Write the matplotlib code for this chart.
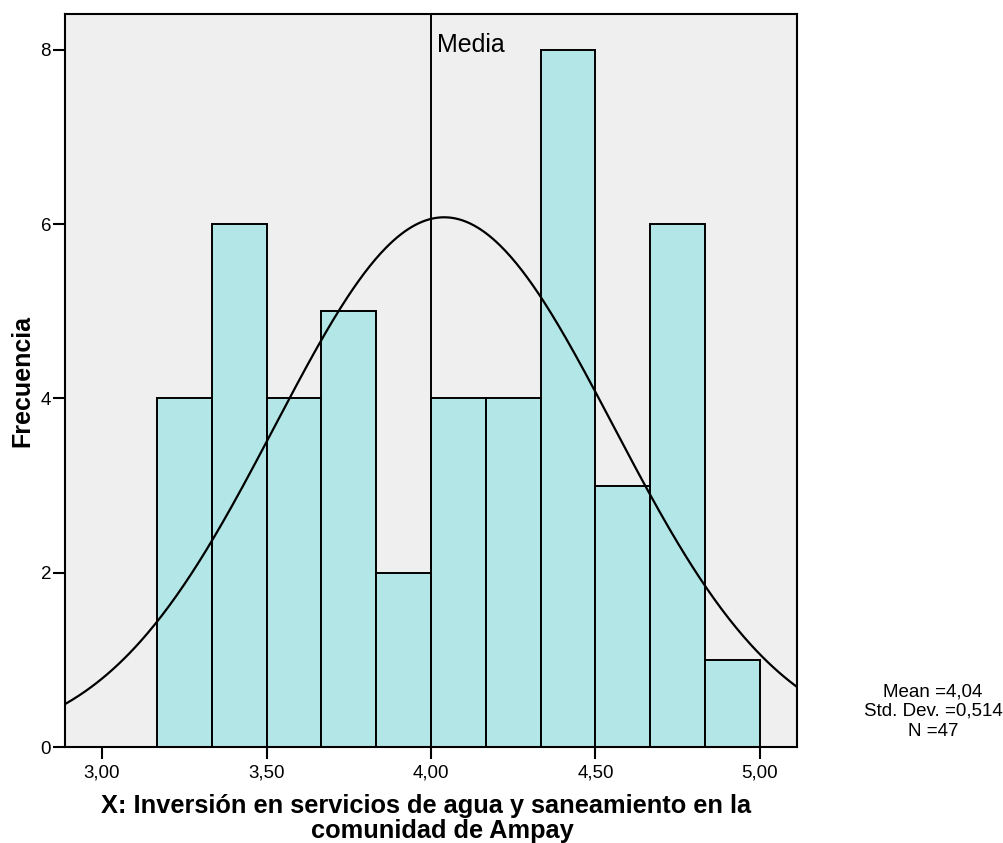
import numpy as np
import matplotlib
matplotlib.use("Agg")
import matplotlib.pyplot as plt

# Histogram data: bin edges (width 1/6) and counts
bin_start = 19 / 6
bin_width = 1 / 6
counts = [4, 6, 4, 5, 2, 4, 4, 8, 3, 6, 1]
mean_val = 4.04
std_val = 0.514
n_obs = 47
media_x = 4.00
xtick_vals = [3.00, 3.50, 4.00, 4.50, 5.00]
xtick_labels = ["3,00", "3,50", "4,00", "4,50", "5,00"]
ytick_vals = [0, 2, 4, 6, 8]

plt.rcParams['font.family'] = ['Liberation Sans', 'DejaVu Sans']

W, H = 1004, 843
fig = plt.figure(figsize=(W / 100, H / 100), dpi=100)
ax = fig.add_axes([65 / W, 1 - 747 / H, 732 / W, 733 / H])
ax.set_facecolor("#efefef")

lefts = [bin_start + i * bin_width for i in range(len(counts))]
ax.bar(lefts, counts, width=bin_width, align="edge", color="#b3e6e6",
       edgecolor="black", linewidth=1.4, zorder=2)

# Normal curve scaled to histogram counts
xmin, xmax = 2.8875, 5.1125
xs = np.linspace(xmin, xmax, 400)
ys = n_obs * bin_width / (std_val * np.sqrt(2 * np.pi)) * np.exp(-0.5 * ((xs - mean_val) / std_val) ** 2)
ax.plot(xs, ys, color="black", linewidth=1.6, zorder=3)

# Reference line labelled "Media"
ax.axvline(media_x, color="black", linewidth=1.4, zorder=4)
ax.text(media_x + 0.018, 7.98, "Media", fontsize=18, va="baseline", ha="left", zorder=5)

ax.set_xlim(xmin, xmax)
ax.set_ylim(0, 8.413)
ax.set_xticks(xtick_vals)
ax.set_xticklabels(xtick_labels)
ax.set_yticks(ytick_vals)
ax.tick_params(axis="both", direction="out", length=8.5, width=1.5, labelsize=13.5)
ax.tick_params(axis="x", pad=4)
ax.tick_params(axis="y", pad=1.5)
for sp in ax.spines.values():
    sp.set_linewidth(1.5)

# Axis titles
fig.text(426.5 / W, 1 - 813 / H, "X: Inversión en servicios de agua y saneamiento en la",
         ha="center", va="baseline", fontsize=18.3, fontweight="bold")
fig.text(442 / W, 1 - 838 / H, "comunidad de Ampay",
         ha="center", va="baseline", fontsize=18.3, fontweight="bold")
fig.text(22 / W, 1 - 381 / H, "Frecuencia", rotation=90,
         ha="center", va="center", fontsize=18, fontweight="bold")

# Summary statistics
for label, yc in [("Mean =4,04", 692), ("Std. Dev. =0,514", 711), ("N =47", 731)]:
    fig.text(933 / W, 1 - yc / H, label, ha="center", va="center", fontsize=13.5)

fig.savefig("out.png", dpi=100)
